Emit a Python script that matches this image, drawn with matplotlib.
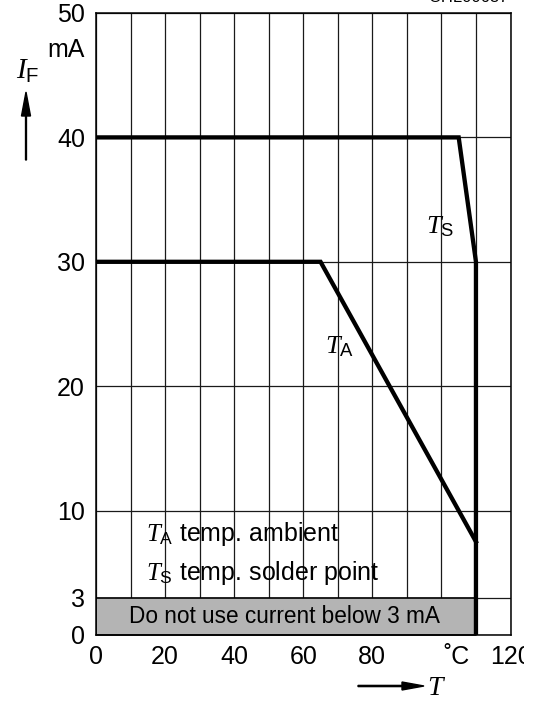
import matplotlib
matplotlib.use("Agg")
import matplotlib.pyplot as plt
from matplotlib.patches import FancyArrow
from matplotlib.transforms import Bbox

# ---- data ----
ts_temp = [0, 105, 110, 110]
ts_current = [40, 40, 30, 0]
ta_temp = [0, 65, 110]
ta_current = [30, 30, 7.5]
min_current = 3
max_temp = 110
x_ticks = [0, 20, 40, 60, 80, 104.5, 120]
x_tick_labels = ["0", "20", "40", "60", "80", "˚C", "120"]
y_ticks = [0, 3, 10, 20, 30, 40, 50]
y_tick_labels = ["0", "3", "10", "20", "30", "40", "50"]
x_grid = list(range(0, 121, 10))

plt.rcParams['font.family'] = ['Liberation Sans', 'DejaVu Sans']
plt.rcParams['mathtext.fontset'] = 'custom'
plt.rcParams['mathtext.it'] = 'Liberation Serif:italic'
plt.rcParams['mathtext.rm'] = 'Liberation Sans'
plt.rcParams['mathtext.sf'] = 'Liberation Sans'

W, H = 542, 707
fig = plt.figure(figsize=(W / 100, H / 100), dpi=100)
ax = fig.add_axes([96 / W, 1 - 635 / H, (510.5 - 96) / W, (635 - 13) / H])
ax.set_xlim(0, 120)
ax.set_ylim(0, 50)

# grid
for xv in x_grid:
    ax.axvline(xv, color='#1a1a1a', lw=0.9, zorder=1)
for yv in y_ticks:
    ax.axhline(yv, color='#1a1a1a', lw=0.9, zorder=1)

# shaded region
ax.fill_between([0, max_temp], 0, min_current, facecolor='#b4b4b4',
                edgecolor='black', lw=1.2, zorder=2)
ax.text(54.5, 1.45, "Do not use current below 3 mA", fontsize=16.3,
        ha='center', va='center', zorder=3)

# curves
ax.plot(ts_temp, ts_current, color='black', lw=3.1, zorder=4,
        solid_joinstyle='miter')
ax.plot(ta_temp, ta_current, color='black', lw=3.1, zorder=4,
        solid_joinstyle='miter')

# curve labels
ax.text(99.5, 32.8, r'$\mathit{T}_\mathrm{S}$', fontsize=19, ha='center',
        va='center', zorder=5)
ax.text(70.5, 23.2, r'$\mathit{T}_\mathrm{A}$', fontsize=19, ha='center',
        va='center', zorder=5)

# legend texts
ax.text(14.6, 8.1, r'$\mathit{T}_\mathrm{A}$ temp. ambient', fontsize=18,
        ha='left', va='center', zorder=5)
ax.text(14.6, 5.0, r'$\mathit{T}_\mathrm{S}$ temp. solder point', fontsize=18,
        ha='left', va='center', zorder=5)

# ticks
ax.set_xticks(x_ticks)
ax.set_xticklabels(x_tick_labels)
ax.set_yticks(y_ticks)
ax.set_yticklabels(y_tick_labels)
ax.tick_params(axis='both', length=0, labelsize=18)
ax.tick_params(axis='x', pad=7)
ax.tick_params(axis='y', pad=8)
for sp in ax.spines.values():
    sp.set_linewidth(1.1)
    sp.set_color('black')

# clip the last x tick label like in the original drawing
lbl = ax.get_xticklabels()[-1]
lbl.set_clip_on(True)
lbl.set_clip_box(Bbox.from_extents(0, 0, 524, H))

# axis titles
fig.text(85 / W, 1 - 50 / H, "mA", fontsize=18, ha='right', va='center')
fig.text(28 / W, 1 - 71 / H, r'$\mathit{I}_\mathrm{F}$', fontsize=21,
         ha='center', va='center')
fig.add_artist(FancyArrow(26 / W, 1 - 160 / H, 0, (160 - 92) / H,
                          width=1.2 / H, head_width=9 / W,
                          head_length=24 / H, length_includes_head=True,
                          color='black', transform=fig.transFigure))
fig.add_artist(FancyArrow(358 / W, 1 - 686 / H, (424 - 358) / W, 0,
                          width=1.2 / H, head_length=22 / W,
                          head_width=8 / H, length_includes_head=True,
                          color='black', transform=fig.transFigure))
fig.text(437 / W, 1 - 688 / H, r'$\mathit{T}$', fontsize=20,
         ha='center', va='center')

# drawing id (mostly cut off at the top edge, as in the original)
fig.text(468 / W, 1 + 3 / H, "OHL00687", fontsize=12, ha='center',
         va='center')

fig.savefig("out.png", dpi=100)
